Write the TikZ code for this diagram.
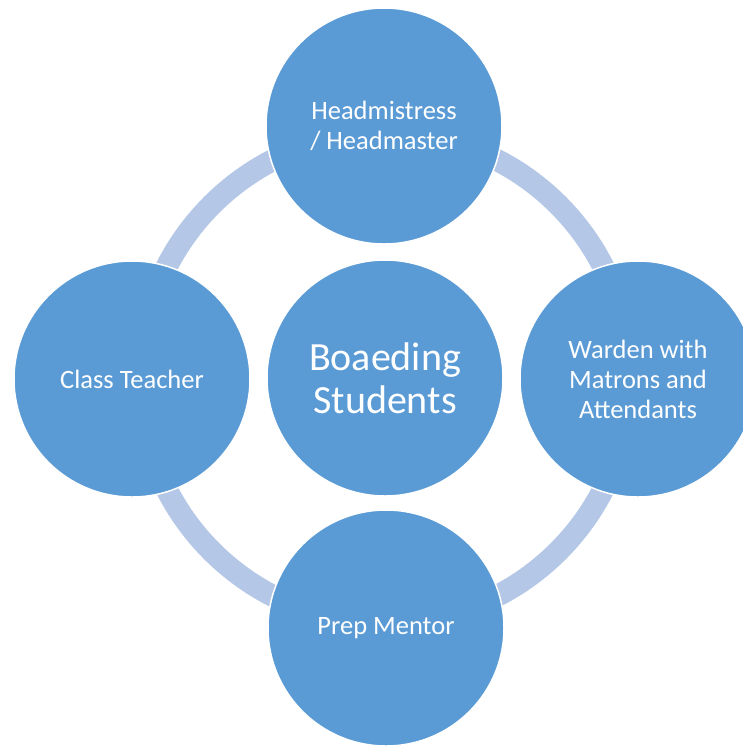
\documentclass[tikz,border=0pt]{standalone}
\usepackage{fontspec}
\setmainfont{Carlito}
\definecolor{bubblefill}{HTML}{5B9BD5}
\definecolor{ringfill}{HTML}{B4C7E7}
\tikzset{
  bubble/.style={circle,fill=bubblefill,draw=white,line width=1.5pt,
    minimum size=236pt,inner sep=0pt,text=white,align=center,
    font=\fontsize{26.5}{30}\selectfont},
  hubtext/.style={font=\fontsize{40}{43}\selectfont},
  ring/.style={draw=ringfill,line width=22pt}
}
\begin{document}
\begin{tikzpicture}[x=1pt,y=-1pt]
        \useasboundingbox (0,0) rectangle (743,748);
        \clip (0,0) rectangle (743,748);

        % ring behind the circles
        \coordinate (hubc) at (385,378);
        \draw[ring] (hubc) circle (245);

        \node[bubble,hubtext] (hub) at (hubc) {Boaeding\\Students};
        \node[bubble] (head) at (384,126) {Headmistress\\/ Headmaster};
        \node[bubble] (warden) at (638,379) {Warden with\\Matrons and\\Attendants};
        \node[bubble] (prep) at (386,628) {Prep Mentor};
        \node[bubble] (teacher) at (132,379) {Class Teacher};
    \end{tikzpicture}
\end{document}
